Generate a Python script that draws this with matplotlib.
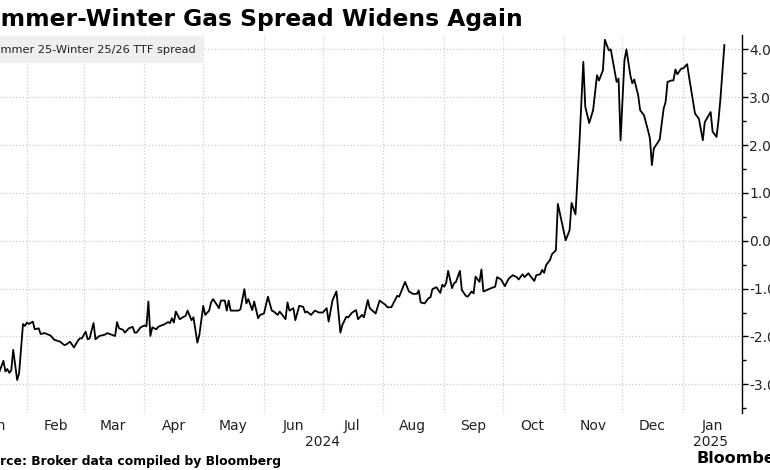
import matplotlib
matplotlib.use('Agg')
import matplotlib.pyplot as plt
import matplotlib.dates as mdates
import matplotlib.transforms as mtransforms
from matplotlib.patches import Rectangle
from matplotlib.ticker import MultipleLocator, NullFormatter, FuncFormatter
import pandas as pd

plt.rcParams['font.family'] = ['DejaVu Sans']

title = "Summer-Winter Gas Spread Widens Again"
series_label = "Summer 25-Winter 25/26 TTF spread"
source_text = "Source: Broker data compiled by Bloomberg"
year_labels = ["2024", "2025"]
year_label_dates = ["2024-07-01", "2025-01-15"]

# days after 2024-01-01
day_offsets = [
    17, 19, 20, 21, 22, 23, 24, 26, 27, 29, 30, 31, 32, 34, 35, 37, 38, 40, 43, 45,
    48, 50, 51, 53, 55, 57, 58, 59, 61, 62, 63, 65, 66, 68, 71, 72, 74, 76, 77, 78,
    80, 81, 83, 85, 86, 87, 89, 91, 92, 93, 94, 95, 97, 98, 99, 101, 103, 104, 105, 106,
    107, 109, 111, 112, 113, 115, 116, 118, 119, 121, 122, 124, 125, 126, 128, 129, 130, 132, 133, 134,
    135, 137, 139, 140, 142, 143, 144, 146, 147, 149, 150, 152, 154, 156, 157, 159, 160, 161, 163, 164,
    165, 167, 168, 170, 172, 173, 174, 176, 178, 180, 182, 184, 185, 187, 189, 191, 192, 194, 195, 197,
    199, 200, 202, 203, 205, 206, 209, 211, 214, 215, 217, 220, 221, 224, 226, 228, 230, 231, 232, 234,
    236, 237, 238, 240, 242, 243, 244, 245, 246, 248, 249, 250, 252, 253, 255, 256, 258, 259, 260, 262,
    263, 264, 268, 270, 271, 273, 275, 276, 277, 279, 281, 282, 284, 285, 287, 288, 290, 291, 293, 294,
    295, 296, 298, 299, 301, 302, 306, 308, 309, 311, 313, 315, 316, 318, 320, 322, 323, 325, 326, 328,
    329, 330, 332, 333, 334, 336, 337, 339, 340, 341, 343, 344, 346, 348, 349, 350, 351, 353, 354, 356,
    357, 358, 360, 361, 362, 363, 365, 366, 368, 369, 372, 374, 376, 377, 380, 381, 383, 384, 385, 387,
]
spread = [
    -2.73, -2.51, -2.73, -2.68, -2.76, -2.71, -2.28, -2.91, -2.77, -1.74, -1.78, -1.71, -1.74, -1.69, -1.85, -1.83, -1.95, -1.93, -1.98, -2.07,
    -2.11, -2.18, -2.17, -2.11, -2.23, -2.09, -2.04, -2.04, -1.90, -2.06, -2.04, -1.72, -2.06, -1.99, -1.96, -1.93, -1.96, -1.99, -1.70, -1.83,
    -1.86, -1.92, -1.83, -1.80, -1.92, -1.92, -1.81, -1.77, -1.79, -1.27, -1.99, -1.81, -1.85, -1.80, -1.78, -1.75, -1.70, -1.72, -1.62, -1.71,
    -1.48, -1.64, -1.59, -1.57, -1.46, -1.66, -1.60, -2.13, -1.97, -1.36, -1.55, -1.46, -1.29, -1.22, -1.34, -1.41, -1.25, -1.25, -1.46, -1.25,
    -1.46, -1.46, -1.46, -1.43, -1.01, -1.31, -1.22, -1.45, -1.27, -1.62, -1.55, -1.52, -1.17, -1.46, -1.48, -1.55, -1.48, -1.53, -1.64, -1.29,
    -1.46, -1.41, -1.66, -1.36, -1.38, -1.50, -1.48, -1.55, -1.46, -1.50, -1.50, -1.41, -1.69, -1.24, -1.06, -1.92, -1.76, -1.59, -1.60, -1.50,
    -1.45, -1.64, -1.55, -1.60, -1.24, -1.41, -1.52, -1.25, -1.34, -1.39, -1.39, -1.15, -1.17, -0.86, -1.06, -1.11, -1.11, -1.04, -1.29, -1.31,
    -1.20, -1.18, -1.01, -0.97, -1.09, -0.92, -0.96, -0.88, -0.63, -0.99, -0.89, -0.86, -0.63, -1.03, -1.15, -1.17, -1.06, -1.10, -0.75, -0.86,
    -0.60, -1.06, -0.99, -0.96, -0.76, -0.81, -0.95, -0.86, -0.79, -0.72, -0.76, -0.81, -0.70, -0.76, -0.68, -0.74, -0.84, -0.72, -0.70, -0.61,
    -0.67, -0.51, -0.40, -0.28, -0.20, 0.77, 0.01, 0.22, 0.79, 0.55, 2.03, 3.74, 2.80, 2.46, 2.73, 3.46, 3.35, 3.56, 4.20, 3.98,
    4.00, 3.77, 3.32, 3.39, 2.10, 3.77, 4.00, 3.46, 3.29, 3.37, 3.04, 2.73, 2.62, 2.31, 2.14, 1.58, 1.93, 2.05, 2.12, 2.76,
    2.90, 3.32, 3.35, 3.35, 3.58, 3.48, 3.60, 3.60, 3.69, 3.42, 2.66, 2.55, 2.10, 2.48, 2.69, 2.28, 2.17, 2.52, 2.97, 4.09,
]
assert len(day_offsets) == len(spread)

dates = pd.Timestamp("2024-01-01") + pd.to_timedelta(day_offsets, unit="D")

W, H = 770, 470
fig = plt.figure(figsize=(W / 100, H / 100), dpi=100)
ax = fig.add_axes([-33.8 / W, 57 / H, 775.8 / W, 378 / H])

ax.plot(dates, spread, color="black", linewidth=1.3)
ax.set_xlim(pd.Timestamp("2024-01-01"), pd.Timestamp("2025-01-31"))
ax.set_ylim(-3.6, 4.3)

# month gridlines at month start, labels mid-month
ax.xaxis.set_major_locator(mdates.MonthLocator())
ax.xaxis.set_major_formatter(NullFormatter())
ax.xaxis.set_minor_locator(mdates.MonthLocator(bymonthday=16))
ax.xaxis.set_minor_formatter(mdates.DateFormatter("%b"))
ax.tick_params(axis="x", which="both", length=0, labelsize=10, pad=4.5, labelcolor="#222222")

ax.yaxis.tick_right()
ax.yaxis.set_major_locator(MultipleLocator(1))
ax.yaxis.set_minor_locator(MultipleLocator(0.5))
ax.yaxis.set_major_formatter(FuncFormatter(lambda v, p: f"{v:.2f}"))
ax.tick_params(axis="y", which="major", length=4, width=1, pad=1, labelsize=10, labelcolor="#222222")
ax.tick_params(axis="y", which="minor", length=3, width=1)

ax.grid(which="major", color="#cfcfcf", linestyle=":", linewidth=0.9)
for side in ["top", "left", "bottom"]:
    ax.spines[side].set_visible(False)
ax.spines["right"].set_linewidth(1)

trans = mtransforms.blended_transform_factory(ax.transData, ax.transAxes)
for lab, d in zip(year_labels, year_label_dates):
    ax.text(pd.Timestamp(d), -29 / 378, lab, transform=trans, ha="center", va="center",
            fontsize=10, color="#222222")

# title, legend, source
fig.text(-33 / W, 1 - 26 / H, title, ha="left", va="baseline", fontsize=16.8, fontweight="bold")
fig.patches.append(Rectangle((-40 / W, 1 - 63 / H), 243 / W, 27 / H, transform=fig.transFigure,
                             facecolor="#efefef", edgecolor="none", zorder=0))
fig.text(-14.5 / W, 1 - 50 / H, series_label, ha="left", va="center", fontsize=8.2, color="#222222")
fig.text(-26 / W, 1 - 465 / H, source_text, ha="left", va="baseline", fontsize=8.9, fontweight="bold")
fig.text(697 / W, 1 - 463 / H, "Bloomberg", ha="left", va="baseline", fontsize=11.5, fontweight="bold")

fig.savefig("out.png", dpi=100)
